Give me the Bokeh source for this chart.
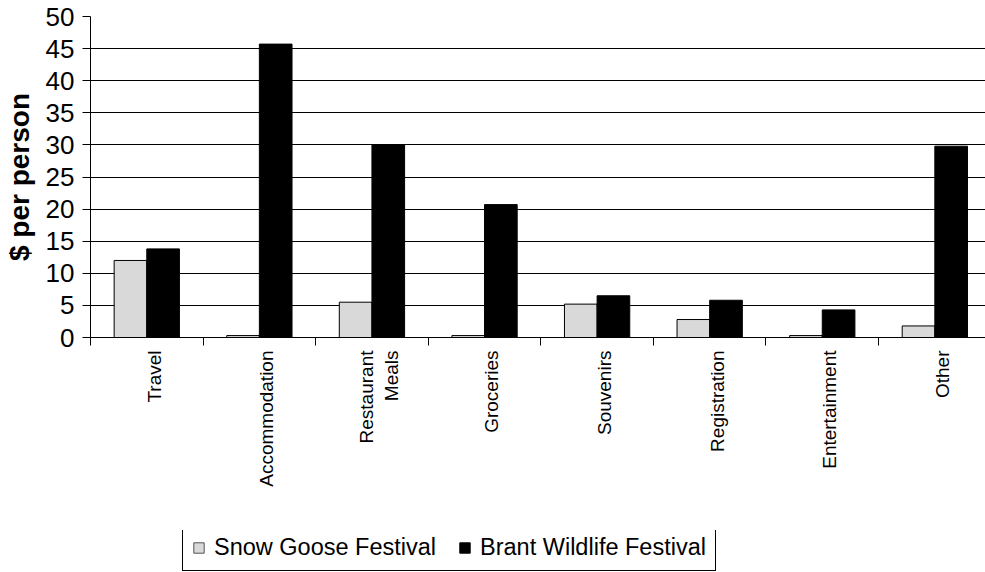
import math
from bokeh.plotting import figure
from bokeh.layouts import column
from bokeh.models import (ColumnDataSource, Range1d, FixedTicker, Legend, LegendItem)
from bokeh.transform import dodge
from bokeh.embed import file_html
from bokeh.resources import INLINE

categories = ["Travel", "Accommodation", "Restaurant\nMeals", "Groceries",
              "Souvenirs", "Registration", "Entertainment", "Other"]
snow_goose = [12.0, 0.3, 5.5, 0.3, 5.2, 2.8, 0.3, 1.8]
brant = [13.8, 45.7, 30.0, 20.7, 6.5, 5.8, 4.3, 29.8]
series_names = ["Snow Goose Festival", "Brant Wildlife Festival"]
y_ticks = [0, 5, 10, 15, 20, 25, 30, 35, 40, 45, 50]
colors = ["#d9d9d9", "black"]

FONT = "Liberation Sans"

pos = [i + 0.5 for i in range(len(categories))]
src = ColumnDataSource(dict(x=pos, snow=snow_goose, brant=brant))

p = figure(width=985, height=530, output_backend="svg", toolbar_location=None,
           x_range=Range1d(0, 7.95), y_range=Range1d(0, 50),
           min_border_left=90, min_border_right=0, min_border_top=16,
           min_border_bottom=193)
p.outline_line_color = None
p.background_fill_color = "white"
p.border_fill_color = "white"

bw = 0.29
p.vbar(x=dodge("x", -bw / 2, range=p.x_range), top="snow", width=bw, source=src,
       fill_color=colors[0], line_color="black", line_width=1)
p.vbar(x=dodge("x", bw / 2, range=p.x_range), top="brant", width=bw, source=src,
       fill_color=colors[1], line_color="black", line_width=1)

# grids
p.xgrid.grid_line_color = None
p.ygrid.grid_line_color = "black"
p.ygrid.grid_line_width = 1
p.ygrid.ticker = FixedTicker(ticks=y_ticks)

# y axis
ya = p.yaxis[0]
ya.ticker = FixedTicker(ticks=y_ticks)
ya.axis_label = "$ per person"
ya.axis_label_text_font = FONT
ya.axis_label_text_font_style = "bold"
ya.axis_label_text_font_size = "28px"
ya.axis_label_text_color = "black"
ya.axis_label_standoff = 8
ya.major_label_text_font = FONT
ya.major_label_text_font_size = "26px"
ya.major_label_text_color = "black"
ya.major_label_standoff = 8
ya.major_tick_out = 8
ya.major_tick_in = 0
ya.minor_tick_out = 0
ya.minor_tick_in = 0
ya.axis_line_color = "black"
ya.major_tick_line_color = "black"

# x axis: labels at (slightly shifted) category centres, boundary ticks as minor ticks
label_shift = 0.065
label_pos = [x + label_shift for x in pos]
xa = p.xaxis[0]
xa.ticker = FixedTicker(ticks=label_pos, minor_ticks=list(range(0, 8)))
xa.major_label_overrides = {x: c for x, c in zip(label_pos, categories)}
xa.major_label_orientation = math.pi / 2
xa.major_label_text_font = FONT
xa.major_label_text_font_size = "19px"
xa.major_label_text_color = "black"
xa.major_label_standoff = 5
xa.major_tick_out = 0
xa.major_tick_in = 0
xa.minor_tick_out = 8
xa.minor_tick_in = 0
xa.minor_tick_line_color = "black"
xa.axis_line_color = "black"

# legend strip underneath
lg = figure(width=985, height=42, output_backend="svg", toolbar_location=None,
            x_range=Range1d(0, 1), y_range=Range1d(0, 1),
            min_border=0, min_border_left=0, min_border_right=0,
            min_border_top=0, min_border_bottom=0)
lg.outline_line_color = None
lg.axis.visible = False
lg.grid.visible = False
lg.border_fill_color = "white"
k1 = lg.vbar(x=[-5], top=[-5], width=0.1, fill_color=colors[0], line_color="#555555")
k2 = lg.vbar(x=[-5], top=[-5], width=0.1, fill_color=colors[1], line_color="black")
legend = Legend(items=[LegendItem(label=series_names[0], renderers=[k1], index=0),
                       LegendItem(label=series_names[1], renderers=[k2], index=0)],
                location=(92, 1), orientation="horizontal",
                label_text_font=FONT, label_text_font_size="23.5px",
                label_text_color="black",
                glyph_width=13, glyph_height=13, label_standoff=9,
                spacing=22, padding=9, margin=0,
                label_height=23,
                border_line_color="black", border_line_width=1, border_line_alpha=1,
                background_fill_color="white", background_fill_alpha=1)
lg.add_layout(legend, "center")

layout = column(p, lg, spacing=0)
open("out.html", "w").write(file_html(layout, INLINE))
